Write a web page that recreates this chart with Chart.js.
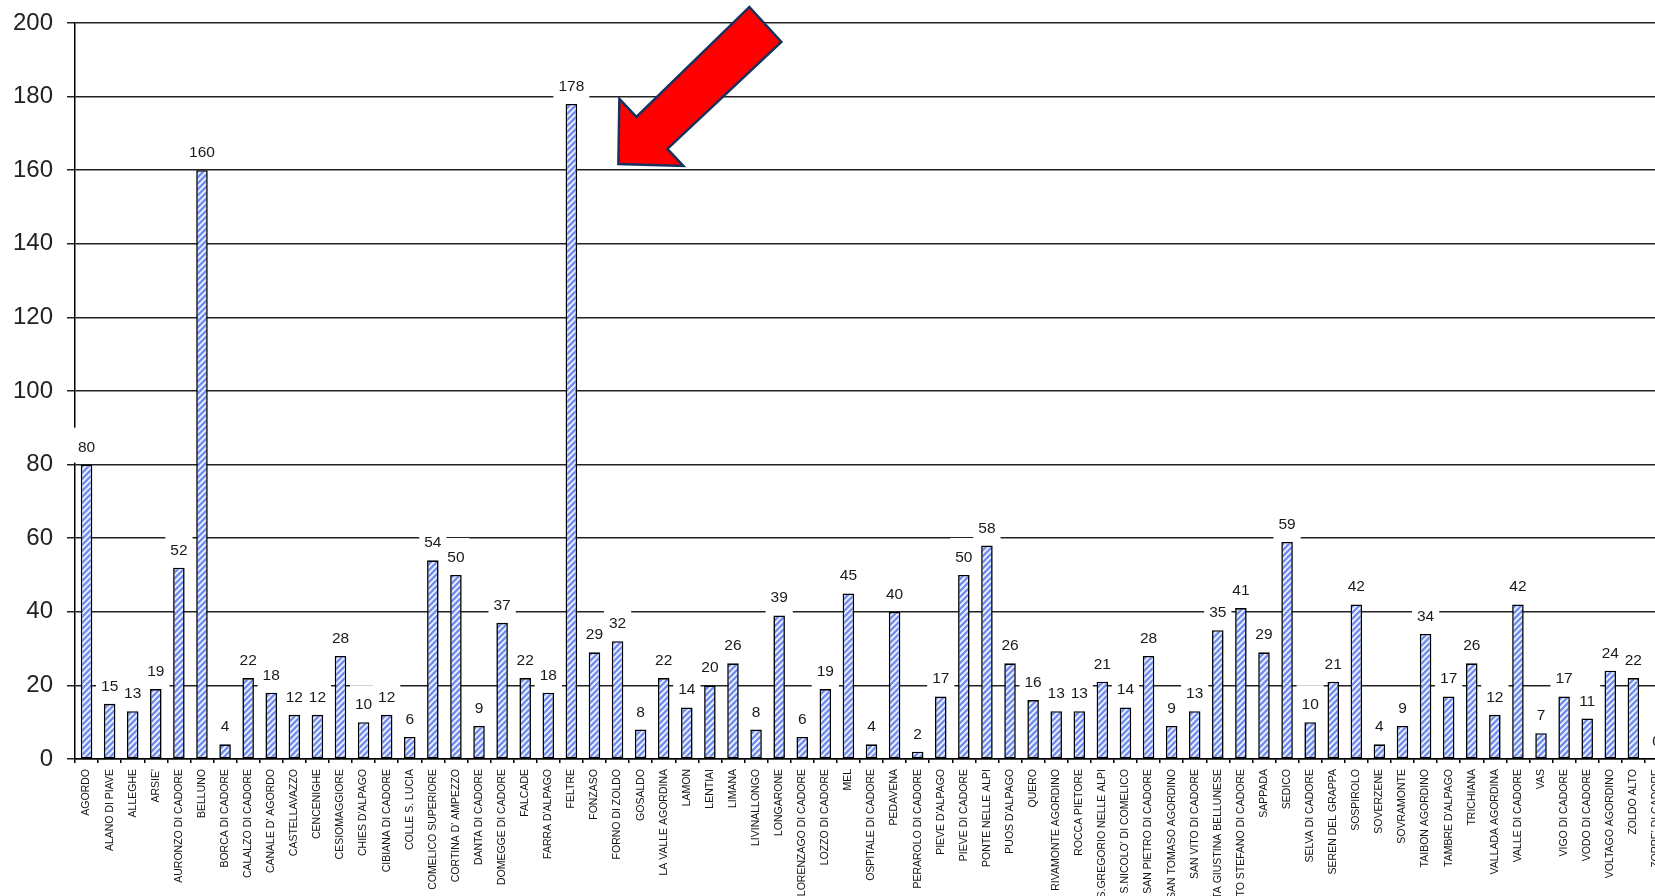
<!DOCTYPE html>
<html>
<head>
<meta charset="utf-8">
<script src="https://cdn.jsdelivr.net/npm/chart.js@4.4.1/dist/chart.umd.min.js"></script>
<style>
  html, body { margin: 0; padding: 0; background: #fff; overflow: hidden; }
  #wrap { width: 1655px; height: 896px; overflow: hidden; position: relative; }
  canvas { position: absolute; left: 0; top: 0; }
</style>
</head>
<body>
<div id="wrap">
  <canvas id="oChart" width="1680" height="1000"></canvas>
</div>
<script>
const comuni = [
  "AGORDO", "ALANO DI PIAVE", "ALLEGHE", "ARSIE'", "AURONZO DI CADORE", "BELLUNO",
  "BORCA DI CADORE", "CALALZO DI CADORE", "CANALE D' AGORDO", "CASTELLAVAZZO", "CENCENIGHE",
  "CESIOMAGGIORE", "CHIES D'ALPAGO", "CIBIANA DI CADORE", "COLLE S. LUCIA", "COMELICO SUPERIORE",
  "CORTINA D' AMPEZZO", "DANTA DI CADORE", "DOMEGGE DI CADORE", "FALCADE", "FARRA D'ALPAGO",
  "FELTRE", "FONZASO", "FORNO DI ZOLDO", "GOSALDO", "LA VALLE AGORDINA", "LAMON", "LENTIAI",
  "LIMANA", "LIVINALLONGO", "LONGARONE", "LORENZAGO DI CADORE", "LOZZO DI CADORE", "MEL",
  "OSPITALE DI CADORE", "PEDAVENA", "PERAROLO DI CADORE", "PIEVE D'ALPAGO", "PIEVE DI CADORE",
  "PONTE NELLE ALPI", "PUOS D'ALPAGO", "QUERO", "RIVAMONTE AGORDINO", "ROCCA PIETORE",
  "S.GREGORIO NELLE ALPI", "S.NICOLO' DI COMELICO", "SAN PIETRO DI CADORE", "SAN TOMASO AGORDINO",
  "SAN VITO DI CADORE", "SANTA GIUSTINA BELLUNESE", "SANTO STEFANO DI CADORE", "SAPPADA",
  "SEDICO", "SELVA DI CADORE", "SEREN DEL GRAPPA", "SOSPIROLO", "SOVERZENE", "SOVRAMONTE",
  "TAIBON AGORDINO", "TAMBRE D'ALPAGO", "TRICHIANA", "VALLADA AGORDINA", "VALLE DI CADORE",
  "VAS", "VIGO DI CADORE", "VODO DI CADORE", "VOLTAGO AGORDINO", "ZOLDO ALTO", "ZOPPE' DI CADORE"
];

const valori = [
  80, 15, 13, 19, 52, 160,
  4, 22, 18, 12, 12,
  28, 10, 12, 6, 54,
  50, 9, 37, 22, 18,
  178, 29, 32, 8, 22, 14, 20,
  26, 8, 39, 6, 19, 45,
  4, 40, 2, 17, 50,
  58, 26, 16, 13, 13,
  21, 14, 28, 9,
  13, 35, 41, 29,
  59, 10, 21, 42, 4, 9,
  34, 17, 26, 12, 42,
  7, 17, 11, 24, 22, 0
];

const yMin = 0;
const yMax = 200;
const yStep = 20;

const evidenziato = "FELTRE";

// hatch fill for the bars
function makeHatch() {
  const oTile = document.createElement("canvas");
  oTile.width = 6;
  oTile.height = 6;
  const c = oTile.getContext("2d");
  c.fillStyle = "#6f8df2";
  c.fillRect(0, 0, 6, 6);
  c.strokeStyle = "#f4f6ff";
  c.lineWidth = 1.8;
  c.beginPath();
  c.moveTo(-1, 7); c.lineTo(7, -1);
  c.moveTo(-4, 4); c.lineTo(4, -4);
  c.moveTo(2, 10); c.lineTo(10, 2);
  c.stroke();
  return c.createPattern(oTile, "repeat");
}

const sFont = "'Liberation Sans', Arial, sans-serif";

// value labels on white boxes
const valueLabels = {
  id: "valueLabels",
  afterDatasetsDraw(chart) {
    const ctx = chart.ctx;
    const meta = chart.getDatasetMeta(0);
    ctx.save();
    ctx.font = "15.5px " + sFont;
    ctx.textAlign = "center";
    ctx.textBaseline = "alphabetic";
    meta.data.forEach((bar, i) => {
      const txt = String(valori[i]);
      const w = ctx.measureText(txt).width + 10;
      ctx.fillStyle = "#ffffff";
      ctx.fillRect(bar.x - w / 2, bar.y - 37, w, 35);
      ctx.fillStyle = "#1a1a1a";
      ctx.fillText(txt, bar.x, bar.y - 13);
    });
    ctx.restore();
  }
};

// red arrow pointing at the highlighted bar
const arrowPlugin = {
  id: "arrowPlugin",
  afterDraw(chart) {
    const xs = chart.scales.x;
    const ys = chart.scales.y;
    const i = comuni.indexOf(evidenziato);
    const tx = xs.getPixelForValue(i) + 47;
    const ty = ys.getPixelForValue(valori[i]) + 60;
    const pts = [[0, 0], [1, -65], [18, -47], [131, -157], [163, -122], [49, -15], [65, 2]];
    const ctx = chart.ctx;
    ctx.save();
    ctx.beginPath();
    pts.forEach((p, k) => {
      if (k === 0) ctx.moveTo(tx + p[0], ty + p[1]);
      else ctx.lineTo(tx + p[0], ty + p[1]);
    });
    ctx.closePath();
    ctx.fillStyle = "#ff0000";
    ctx.fill();
    ctx.lineWidth = 2.5;
    ctx.lineJoin = "miter";
    ctx.strokeStyle = "#15335e";
    ctx.stroke();
    ctx.restore();
  }
};

const oCanvas = document.getElementById("oChart");
const oContext = oCanvas.getContext("2d");

new Chart(oContext, {
  type: "bar",
  data: {
    labels: comuni,
    datasets: [
      {
        label: "Comuni",
        data: valori,
        backgroundColor: makeHatch(),
        borderColor: "#000",
        borderWidth: 1.6,
        borderSkipped: false,
        barPercentage: 0.5,
        categoryPercentage: 1
      }
    ]
  },
  options: {
    responsive: false,
    animation: false,
    layout: {
      padding: { top: 23, right: 12, left: 0, bottom: 0 }
    },
    scales: {
      x: {
        type: "category",
        offset: true,
        afterFit(scale) { scale.height = 1000 - 759; },
        grid: {
          display: true,
          offset: true,
          drawOnChartArea: false,
          drawTicks: true,
          tickLength: 4,
          color: "#000",
          lineWidth: 1.5
        },
        border: { display: true, color: "#000", width: 1.5 },
        ticks: {
          autoSkip: false,
          minRotation: 90,
          maxRotation: 90,
          padding: 6,
          color: "#111",
          font: { family: sFont, size: 10.5 }
        }
      },
      y: {
        min: yMin,
        max: yMax,
        afterFit(scale) {
          scale.width = 75;
          // keep the plot top where the 200 line sits
          scale.paddingTop = 10;
          scale.paddingBottom = 10;
        },
        grid: {
          color: "#222",
          lineWidth: 1.5,
          drawTicks: true,
          tickLength: 8
        },
        border: { display: true, color: "#000", width: 1.5 },
        ticks: {
          stepSize: yStep,
          padding: 14,
          color: "#222",
          font: { family: sFont, size: 24 }
        }
      }
    },
    plugins: {
      legend: { display: false },
      tooltip: { enabled: false }
    }
  },
  plugins: [valueLabels, arrowPlugin]
});
</script>
</body>
</html>
